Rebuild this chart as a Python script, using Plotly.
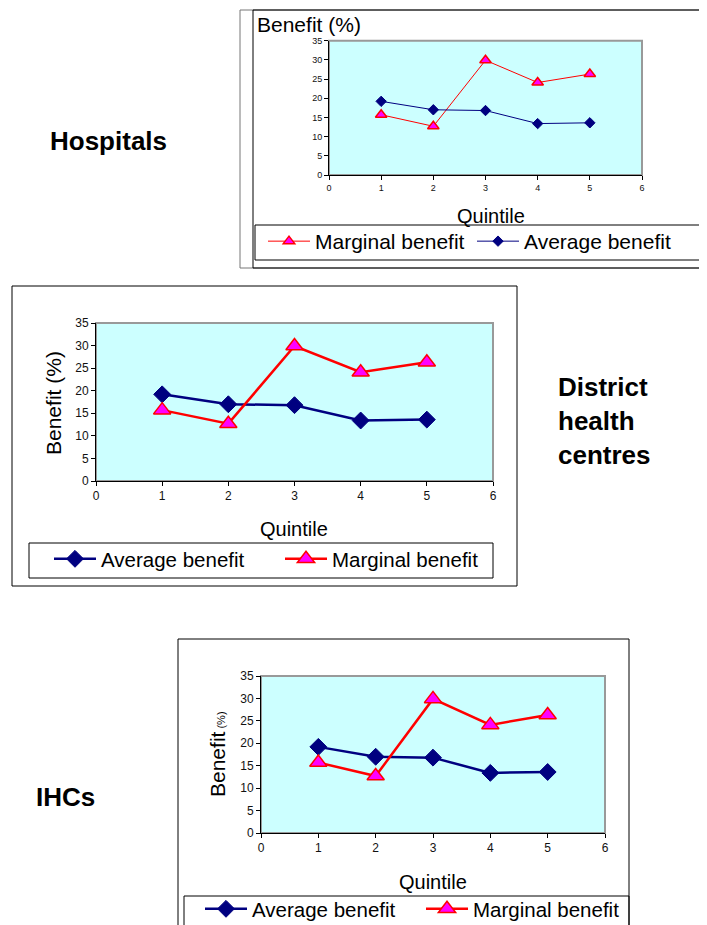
import plotly.graph_objects as go

# ---- data ----
quintiles = [1, 2, 3, 4, 5]
average_benefit = [19.2, 17.0, 16.8, 13.4, 13.6]
marginal_benefit = [15.7, 12.7, 29.9, 24.1, 26.3]
x_ticks = [0, 1, 2, 3, 4, 5, 6]
y_ticks = [0, 5, 10, 15, 20, 25, 30, 35]
panel_labels = ["Hospitals", "District<br>health<br>centres", "IHCs"]

# the page body has an 8px margin, so the figure is 8px smaller and all
# reference pixel positions are shifted by 8px
OFF = 8
W, H = 707 - OFF, 925 - OFF
FONT = "Arial, 'Liberation Sans', sans-serif"
NAVY = "#000080"
RED = "#FF0000"
MAGENTA = "#FF00FF"
CYAN = "#CCFFFF"


def px(x):
    return (x - OFF) / W


def py(y):
    return 1 - (y - OFF) / H


fig = go.Figure()

panels = [
    dict(ax="", plot=(329, 642, 40.7, 175), tick=9, lw=1, tri=10, dia=8,
         order=["m", "a"], legend="legend"),
    dict(ax="2", plot=(96, 493, 323, 481), tick=12, lw=2.5, tri=15, dia=13,
         order=["a", "m"], legend="legend2"),
    dict(ax="3", plot=(261, 605, 676, 833), tick=12, lw=2.5, tri=15, dia=13,
         order=["a", "m"], legend="legend3"),
]

for p in panels:
    xa = "x" + p["ax"]
    ya = "y" + p["ax"]
    for key in p["order"]:
        if key == "a":
            fig.add_trace(go.Scatter(
                x=quintiles, y=average_benefit, name="Average benefit",
                mode="lines+markers", xaxis=xa, yaxis=ya, legend=p["legend"],
                line=dict(color=NAVY, width=p["lw"]),
                marker=dict(symbol="diamond", size=p["dia"], color=NAVY,
                            line=dict(color=NAVY, width=1)),
            ))
        else:
            fig.add_trace(go.Scatter(
                x=quintiles, y=marginal_benefit, name="Marginal benefit",
                mode="lines+markers", xaxis=xa, yaxis=ya, legend=p["legend"],
                line=dict(color=RED, width=p["lw"]),
                marker=dict(symbol="triangle-up", size=p["tri"], color=MAGENTA,
                            line=dict(color=RED, width=1.5)),
            ))

layout = dict(
    width=W, height=H,
    margin=dict(l=0, r=0, t=0, b=0, autoexpand=False),
    paper_bgcolor="white", plot_bgcolor=CYAN,
    font=dict(family=FONT, color="black"),
    showlegend=True,
)

for p in panels:
    x0, x1, y0, y1 = p["plot"]
    common = dict(ticks="outside", ticklen=4, tickcolor="black", showline=True,
                  linecolor="black", linewidth=1, showgrid=False, zeroline=False,
                  tickfont=dict(size=p["tick"], family=FONT, color="#111"),
                  fixedrange=True)
    layout["xaxis" + p["ax"]] = dict(domain=[px(x0), px(x1)], anchor="y" + p["ax"],
                                     range=[0, 6], tickvals=x_ticks, **common)
    layout["yaxis" + p["ax"]] = dict(domain=[py(y1), py(y0)], anchor="x" + p["ax"],
                                     range=[0, 35], tickvals=y_ticks, **common)

leg_common = dict(orientation="h", bgcolor="rgba(0,0,0,0)", borderwidth=0,
                  xanchor="left", yanchor="top", entrywidthmode="pixels",
                  itemwidth=42, tracegroupgap=0, itemclick=False,
                  itemdoubleclick=False)
layout["legend"] = dict(x=px(263), y=py(221), entrywidth=152,
                        font=dict(size=21, family=FONT, color="black"), **leg_common)
layout["legend2"] = dict(x=px(49), y=py(539), entrywidth=174,
                         font=dict(size=20.5, family=FONT, color="black"), **leg_common)
layout["legend3"] = dict(x=px(200), y=py(889), entrywidth=164,
                         font=dict(size=20.5, family=FONT, color="black"), **leg_common)

fig.update_layout(**layout)

# frames
shapes = []
line_blk = dict(color="black", width=1)


def frame(x0, y0, x1, y1, line=line_blk):
    shapes.append(dict(type="rect", xref="paper", yref="paper", x0=px(x0), x1=px(x1),
                       y0=py(y1), y1=py(y0), line=line, layer="below"))


frame(240, 10, 702, 268, dict(color="#777", width=1))
frame(253, 10, 700, 268)
frame(12, 286, 517, 586)
frame(178, 639, 629, 960)
# legend boxes
frame(255, 225, 702, 260)
frame(29, 543, 493, 578)
frame(184, 896, 629, 960)
for p in panels:
    shapes.append(dict(type="rect", xref="x" + p["ax"] + " domain",
                       yref="y" + p["ax"] + " domain", x0=0, x1=1, y0=0, y1=1,
                       line=dict(color="#999", width=2), layer="below"))
fig.update_layout(shapes=shapes)

ann = []
ann.append(dict(text="Benefit (%)", x=px(255), y=py(25), xref="paper", yref="paper",
                xanchor="left", yanchor="middle", showarrow=False,
                font=dict(size=21)))
ann.append(dict(text="Quintile", x=px(491), y=py(216), xref="paper", yref="paper",
                xanchor="center", yanchor="middle", showarrow=False, font=dict(size=20)))
ann.append(dict(text="Benefit (%)", x=px(53), y=py(403), xref="paper", yref="paper",
                xanchor="center", yanchor="middle", showarrow=False, textangle=-90,
                font=dict(size=21)))
ann.append(dict(text="Quintile", x=px(294), y=py(529), xref="paper", yref="paper",
                xanchor="center", yanchor="middle", showarrow=False, font=dict(size=20)))
ann.append(dict(text="Benefit<span style='font-size:11px'> (%)</span>", x=px(217),
                y=py(754), xref="paper", yref="paper", xanchor="center",
                yanchor="middle", showarrow=False, textangle=-90, font=dict(size=21)))
ann.append(dict(text="Quintile", x=px(433), y=py(882), xref="paper", yref="paper",
                xanchor="center", yanchor="middle", showarrow=False, font=dict(size=20)))
ann.append(dict(text="<b>" + panel_labels[0] + "</b>", x=px(108), y=py(141),
                xref="paper", yref="paper", xanchor="center", yanchor="middle",
                showarrow=False, font=dict(size=26)))
ann.append(dict(text="<b>" + panel_labels[1] + "</b>", x=px(556), y=py(421),
                xref="paper", yref="paper", xanchor="left", yanchor="middle",
                showarrow=False, align="left", font=dict(size=26)))
ann.append(dict(text="<b>" + panel_labels[2] + "</b>", x=px(65), y=py(797),
                xref="paper", yref="paper", xanchor="center", yanchor="middle",
                showarrow=False, font=dict(size=26)))
fig.update_layout(annotations=ann)

fig.write_html("out.html")
